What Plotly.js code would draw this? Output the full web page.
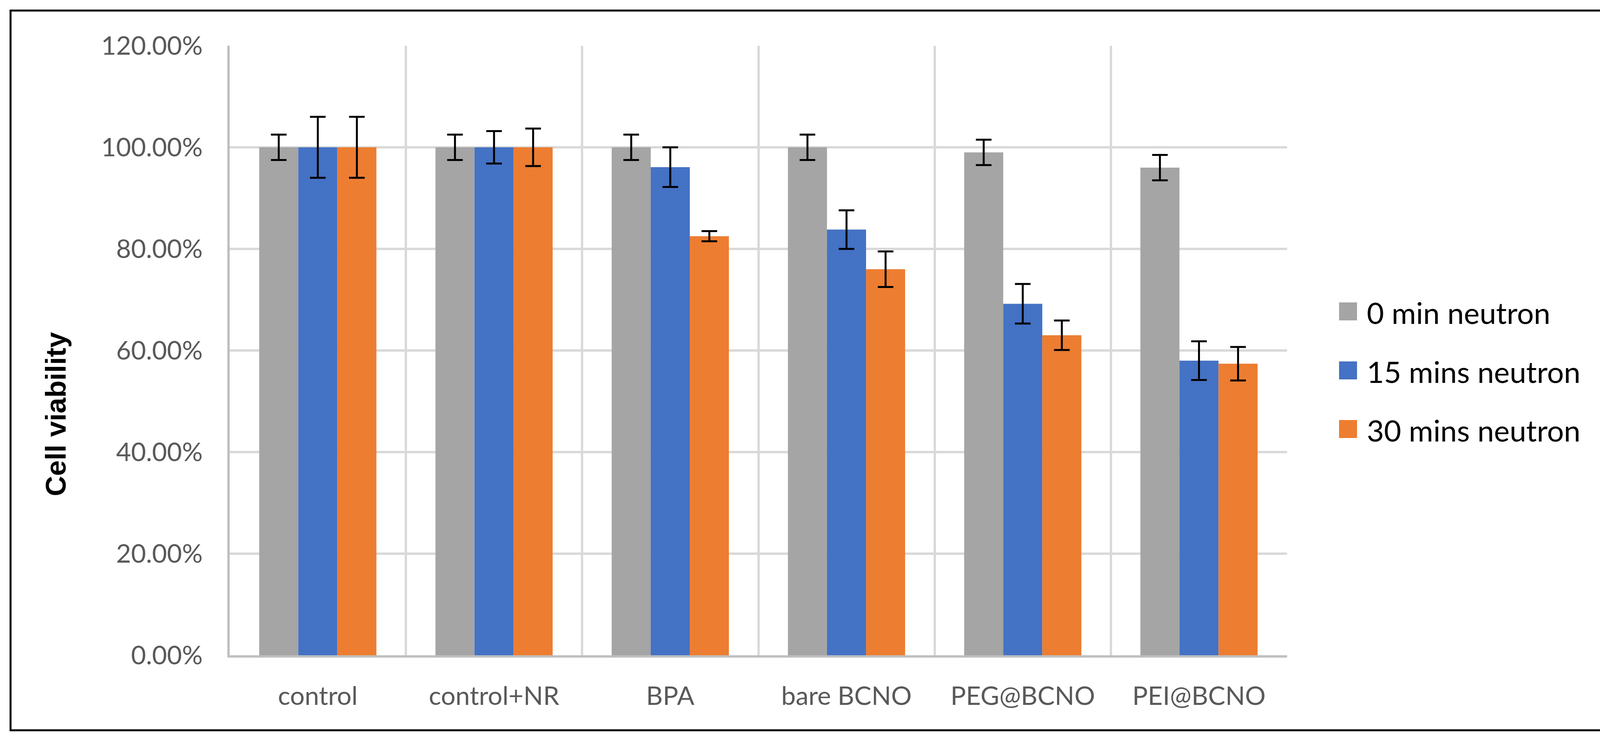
<!DOCTYPE html>
<html>
<head>
<meta charset="utf-8">
<script src="https://cdn.plot.ly/plotly-3.0.1.min.js"></script>
<style>
  html, body { margin: 0; padding: 0; background: #ffffff; }
  #chart { width: 4190px; height: 1899px; }
</style>
</head>
<body>
<div id="chart"></div>
<script>
// ---- data ----
var categories = ['control', 'control+NR', 'BPA', 'bare BCNO', 'PEG@BCNO', 'PEI@BCNO'];
var seriesNames = ['0 min neutron', '15 mins neutron', '30 mins neutron'];
var seriesColors = ['#A5A5A5', '#4472C4', '#ED7D31'];
var values0  = [1.000, 1.000, 1.000, 1.000, 0.990, 0.960];
var errors0  = [0.025, 0.025, 0.025, 0.025, 0.025, 0.025];
var values15 = [1.000, 1.000, 0.961, 0.838, 0.692, 0.580];
var errors15 = [0.060, 0.032, 0.039, 0.038, 0.039, 0.038];
var values30 = [1.000, 1.000, 0.825, 0.760, 0.630, 0.574];
var errors30 = [0.060, 0.037, 0.010, 0.035, 0.029, 0.033];
var yTitle = 'Cell viability';

var allValues = [values0, values15, values30];
var allErrors = [errors0, errors15, errors30];

// ---- geometry (pixels) ----
var W = 4190, H = 1899;
var L = 588, R = 3295, T = 117, B = 1677;
var pw = R - L, ph = B - T;
function px2x(p) { return (p - L) / pw; }
function px2y(p) { return (B - p) / ph; }

var tickFont = { family: 'Lato, "Open Sans", sans-serif', size: 66, color: '#595959' };

var traces = [];
for (var s = 0; s < seriesNames.length; s++) {
  traces.push({
    type: 'bar',
    name: seriesNames[s],
    x: categories,
    y: allValues[s],
    marker: { color: seriesColors[s], line: { width: 0 } },
    error_y: { type: 'data', array: allErrors[s], visible: true, color: '#000000', thickness: 5, width: 20 },
    showlegend: false,
    hoverinfo: 'skip'
  });
}

var shapes = [];
var annotations = [];

// outer frame
shapes.push({
  type: 'rect', xref: 'paper', yref: 'paper', layer: 'above',
  x0: px2x(27), x1: px2x(4155), y0: px2y(1869), y1: px2y(27),
  line: { color: '#000000', width: 5 }, fillcolor: 'rgba(0,0,0,0)'
});

// custom legend (large square swatches like the original)
var legX0 = 3428, legSq = 46, legTextX = 3497;
var legY = [797, 948, 1098];
for (var k = 0; k < seriesNames.length; k++) {
  shapes.push({
    type: 'rect', xref: 'paper', yref: 'paper',
    x0: px2x(legX0), x1: px2x(legX0 + legSq),
    y0: px2y(legY[k] + legSq / 2), y1: px2y(legY[k] - legSq / 2),
    line: { width: 0 }, fillcolor: seriesColors[k]
  });
  annotations.push({
    xref: 'paper', yref: 'paper', x: px2x(legTextX), y: px2y(legY[k] + 2),
    xanchor: 'left', yanchor: 'middle', showarrow: false,
    text: seriesNames[k],
    font: { family: 'Lato, "Open Sans", sans-serif', size: 76, color: '#000000' }
  });
}

// y-axis title
annotations.push({
  xref: 'paper', yref: 'paper', x: px2x(143), y: px2y(1060),
  xanchor: 'center', yanchor: 'middle', showarrow: false, textangle: -90,
  text: '<b>' + yTitle + '</b>',
  font: { family: '"Liberation Sans", Arial, sans-serif', size: 72, color: '#000000' }
});

var layout = {
  width: W, height: H,
  margin: { l: L, r: W - R, t: T, b: H - B, pad: 0 },
  paper_bgcolor: '#ffffff', plot_bgcolor: '#ffffff',
  barmode: 'group', bargap: 0.335, bargroupgap: 0,
  showlegend: false,
  xaxis: {
    type: 'category',
    tickson: 'boundaries',
    ticks: '',
    showgrid: true, gridcolor: '#D9D9D9', gridwidth: 6,
    showline: true, linecolor: '#BFBFBF', linewidth: 6,
    tickfont: tickFont,
    ticklabelstandoff: 42,
    fixedrange: true
  },
  yaxis: {
    range: [0, 1.2], dtick: 0.2, tick0: 0,
    tickformat: '.2%',
    ticks: '',
    showgrid: true, gridcolor: '#D9D9D9', gridwidth: 6,
    zeroline: false,
    showline: true, linecolor: '#BFBFBF', linewidth: 6,
    tickfont: tickFont,
    ticklabelstandoff: 50,
    fixedrange: true
  },
  shapes: shapes,
  annotations: annotations
};

Plotly.newPlot('chart', traces, layout, { staticPlot: true, displayModeBar: false });
</script>
</body>
</html>
